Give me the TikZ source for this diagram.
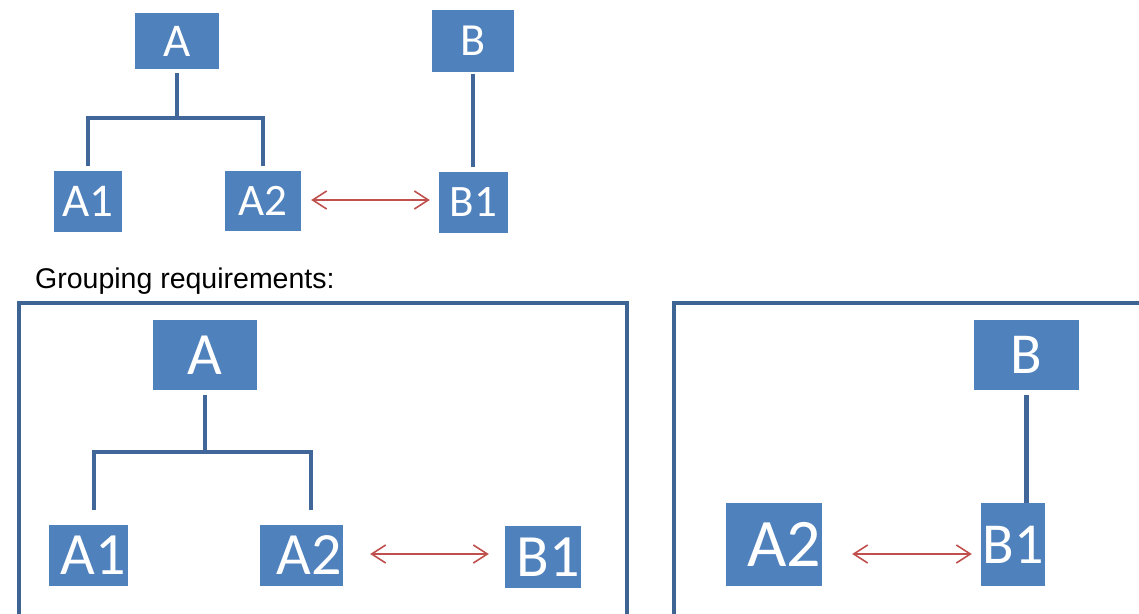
\documentclass[tikz,border=0pt]{standalone}
\usepackage{fontspec}
\setmainfont{Liberation Sans}
\newfontfamily\boxfont{Carlito}
\usetikzlibrary{arrows.meta}
\definecolor{boxblue}{HTML}{4F81BD}
\definecolor{linkblue}{HTML}{41679A}
\definecolor{framecol}{HTML}{3E6493}
\definecolor{relred}{HTML}{C0504D}
\tikzset{
  box/.style={fill=boxblue, draw=none, text=white, inner sep=0pt, anchor=center},
  fs/.style={font=\boxfont\fontsize{#1}{#1}\selectfont},
  conn/.style={draw=linkblue, line width=4.5pt},
  frame/.style={draw=framecol, line width=4pt},
  rel/.style={draw=relred, line width=1.6pt, {Straight Barb[length=14pt,width=18pt]}-{Straight Barb[length=14pt,width=18pt]}},
}
\begin{document}
\begin{tikzpicture}[x=1pt,y=-1pt]
\clip (0,0) rectangle (1139,613);
\fill[white] (0,0) rectangle (1139,613);

% ---------- top diagram ----------
\node[box, fs=47, minimum width=84pt, minimum height=56pt] (tA) at (177,41) {A};
\node[box, fs=46, minimum width=82pt, minimum height=62pt] (tB) at (473,41) {B};
\node[box, fs=47, minimum width=68pt, minimum height=61pt] (tA1) at (88,201.5) {A1};
\node[box, fs=45, minimum width=76pt, minimum height=60pt] (tA2) at (263,201) {A2};
\node[box, fs=45, minimum width=69pt, minimum height=61pt] (tB1) at (473.5,202.5) {B1};

\coordinate (tj) at (177,118);
\draw[conn] ([yshift=-4pt]tA.south) -- (tj);
\draw[conn] ([yshift=5pt]tA1.north) |- (tj) -| ([yshift=5pt]tA2.north);
\draw[conn] ([yshift=-2pt]tB.south) -- ([yshift=5pt]tB1.north -| tB.south);
\draw[rel, shorten <=10pt, shorten >=9pt] ([yshift=1pt]tA2.east) -- ([yshift=1pt]tA2.east -| tB1.west);

\node[anchor=base west, font=\fontsize{28.5}{28.5}\selectfont, inner sep=0pt] (title) at (35,288) {Grouping requirements:};

% ---------- bottom left group ----------
\draw[frame] (19,303) rectangle (627,700);
\node[box, fs=60, minimum width=104pt, minimum height=70pt] (lA) at (205,355) {A};
\node[box, fs=60, minimum width=79pt, minimum height=61pt] (lA1) at (88.5,555.5) {\hspace*{10pt}A1};
\node[box, fs=60, minimum width=83pt, minimum height=61pt] (lA2) at (301.5,555.5) {\hspace*{16pt}A2};
\node[box, fs=60, minimum width=76pt, minimum height=62pt] (lB1) at (543,557) {\hspace*{10pt}B1};

\coordinate (lj) at (205,452);
\draw[conn] ([yshift=-5pt]lA.south) -- (lj);
\draw[conn] ([xshift=5.5pt,yshift=15pt]lA1.north) |- (lj) -| ([xshift=9.5pt,yshift=15pt]lA2.north);
\draw[rel, shorten <=27pt, shorten >=16pt] ([yshift=1.5pt]lA2.east) -- ([yshift=1.5pt]lA2.east -| lB1.west);

% ---------- bottom right group ----------
\draw[frame] (673.5,303) rectangle (1250,700);
\node[box, fs=58, minimum width=105pt, minimum height=70pt] (rB) at (1026.5,355) {B};
\node[box, fs=68, minimum width=96pt, minimum height=83pt] (rA2) at (774,544.5) {\hspace*{20pt}A2};
\node[box, fs=58, minimum width=64pt, minimum height=83pt] (rB1) at (1013,544.5) {B1};

\draw[conn] ([yshift=-5pt]rB.south) -- (rB1.north -| rB.south);
\draw[rel, shorten <=30pt, shorten >=9pt] ([yshift=-9.5pt]rA2.east) -- ([yshift=-9.5pt]rA2.east -| rB1.west);
\end{tikzpicture}
\end{document}
